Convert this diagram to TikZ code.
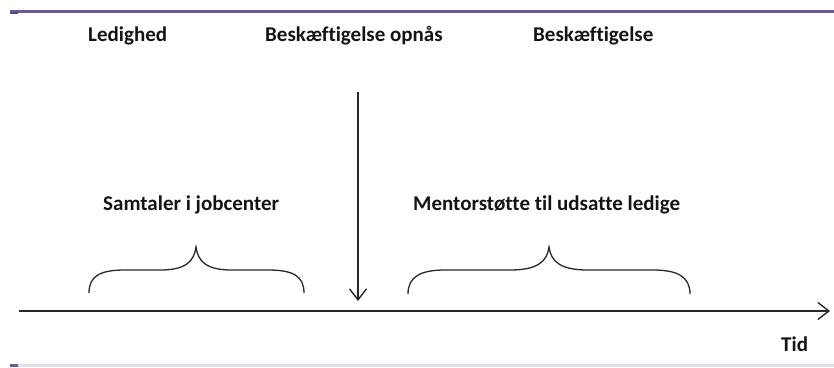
\documentclass[tikz,border=0pt]{standalone}
\usepackage{fontspec}
\setmainfont[Ligatures={NoCommon}]{Carlito}
\usetikzlibrary{arrows.meta}
\definecolor{rulepurple}{RGB}{108,90,148}
\definecolor{rulelight}{RGB}{226,222,234}
\definecolor{inkgray}{RGB}{40,40,40}
\tikzset{
  lbl/.style={anchor=base west, inner sep=0pt, text=black!92, font=\fontsize{21}{25}\selectfont\bfseries},
  axisline/.style={draw=inkgray, line width=1.5pt, -{Straight Barb[length=11pt,width=17pt,line width=1.4pt]}},
  bracepath/.style={draw=inkgray, line width=1.3pt},
}
\begin{document}
\begin{tikzpicture}[x=1pt,y=-1pt]
\useasboundingbox (0,0) rectangle (834,367);
% frame rules
\fill[rulepurple] (10,10) rectangle (834,12.5);
\fill[rulepurple!80!black] (10,12) rectangle (18,14);
\fill[rulelight] (10,364) rectangle (834,367);
\fill[rulepurple] (10,364) rectangle (18,367);
% labels
\node[lbl] (led) at (88,41) {Ledighed};
\node[lbl] (bopn) at (265,41) {Beskæftigelse opnås};
\node[lbl] (besk) at (533,41) {Beskæftigelse};
\node[lbl] (samt) at (103,210) {Samtaler i jobcenter};
\node[lbl] (ment) at (413,210) {Mentorstøtte til udsatte ledige};
\node[lbl] (tid) at (781,351) {Tid};
% time axis
\coordinate (t0) at (19,311);
\coordinate (t1) at (830,311);
\draw[axisline] (t0) -- (t1);
% event arrow
\coordinate (e0) at (358,92);
\coordinate (e1) at (358,301);
\draw[axisline] (e0) -- (e1);
% braces
\draw[bracepath] (89,293) .. controls (89,276) and (100,270) .. (125,270) -- (160,270)
  .. controls (185,270) and (194,262) .. (196,247)
  .. controls (198,262) and (207,270) .. (232,270) -- (268,270)
  .. controls (293,270) and (304,276) .. (304,293);
\draw[bracepath] (408,294) .. controls (408,277) and (420,270) .. (445,270) -- (510,270)
  .. controls (537,270) and (547,262) .. (549,247)
  .. controls (551,262) and (561,270) .. (588,270) -- (653,270)
  .. controls (678,270) and (690,277) .. (690,294);
\end{tikzpicture}
\end{document}
